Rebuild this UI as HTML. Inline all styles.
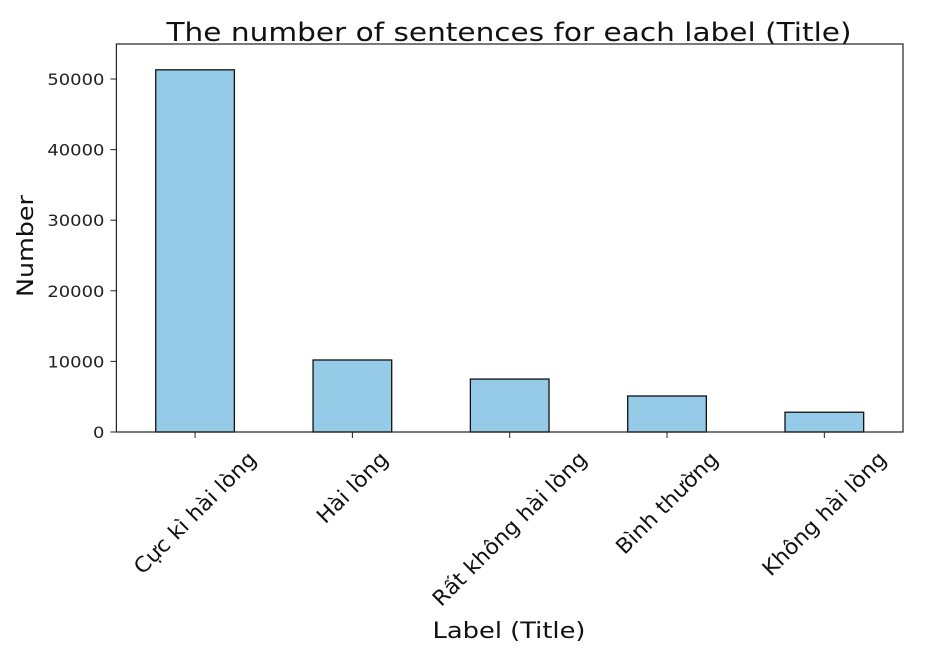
<!DOCTYPE html>
<html><head><meta charset="utf-8"><style>
html,body{margin:0;padding:0;background:#fff;}
svg{display:block;font-family:"DejaVu Sans","Liberation Sans",sans-serif;}
</style></head><body>
<svg id="chart" width="945" height="660" viewBox="0 0 945 660">
<text x="509" y="41" font-size="26" text-anchor="middle" fill="#111" textLength="685" lengthAdjust="spacingAndGlyphs">The number of sentences for each label (Title)</text>
<text transform="translate(33,246) rotate(-90)" font-size="22" text-anchor="middle" fill="#111" textLength="102" lengthAdjust="spacingAndGlyphs">Number</text>
<text x="509" y="638" font-size="22" text-anchor="middle" fill="#111" textLength="153" lengthAdjust="spacingAndGlyphs">Label (Title)</text>
<g id="bars"></g><g id="yticks"></g><g id="xticks"></g>
<rect x="116.4" y="44" width="786.6" height="388" fill="none" stroke="#222" stroke-width="1.2"/>
</svg>
<script>
const categories = ["Cực kì hài lòng","Hài lòng","Rất không hài lòng","Bình thường","Không hài lòng"];
const values = [51300, 10200, 7500, 5100, 2800];
const yTickValues = [0,10000,20000,30000,40000,50000];
const yTickLabels = ["0","10000","20000","30000","40000","50000"];

const L=116.4, R=903, T=44, B=432;
const NS="http://www.w3.org/2000/svg";
const yMax=(B-T)/((432-79)/50000);
function y(v){return B-v*(B-T)/yMax;}
const step=(R-L)/categories.length;
function x(i){return L+step*(i+0.5);}
const bw=step*0.5;
function mk(t,a,p){const e=document.createElementNS(NS,t);for(const k in a)e.setAttribute(k,a[k]);p.appendChild(e);return e;}
const gb=document.getElementById('bars'),gy=document.getElementById('yticks'),gx=document.getElementById('xticks');
values.forEach((v,i)=>{
  const r=mk('rect',{x:x(i)-bw/2,y:y(v),width:bw,height:B-y(v),fill:'#96cbe8',stroke:'#111','stroke-width':1.3},gb);
  
  
});
yTickValues.forEach((v,i)=>{
  const l=mk('line',{x1:L-6,x2:L,y1:y(v),y2:y(v),stroke:'#222','stroke-width':1},gy);
  
  
  const t=mk('text',{x:L-12,y:y(v)+6,'font-size':16,'text-anchor':'end',fill:'#222'},gy);
  t.textContent=yTickLabels[i];
  const w=t.getComputedTextLength();
  t.setAttribute('textLength',w*1.12);
  t.setAttribute('lengthAdjust','spacingAndGlyphs');
  
  
});
categories.forEach((c,i)=>{
  const l=mk('line',{x1:x(i),x2:x(i),y1:B,y2:B+6,stroke:'#222','stroke-width':1},gx);
  
  
  const t=mk('text',{'font-size':21,'text-anchor':'middle',fill:'#111'},gx);
  t.textContent=c;
  
  
  const W=t.getComputedTextLength()*1.05, h=21;
  t.setAttribute('textLength',W);
  t.setAttribute('lengthAdjust','spacingAndGlyphs');
  const half=(W+h)*0.7071/2;
  const cy=448+half;
  t.setAttribute('transform','translate('+x(i)+','+cy+') rotate(-45)');
  t.setAttribute('y',7);
});
</script>
</body></html>
